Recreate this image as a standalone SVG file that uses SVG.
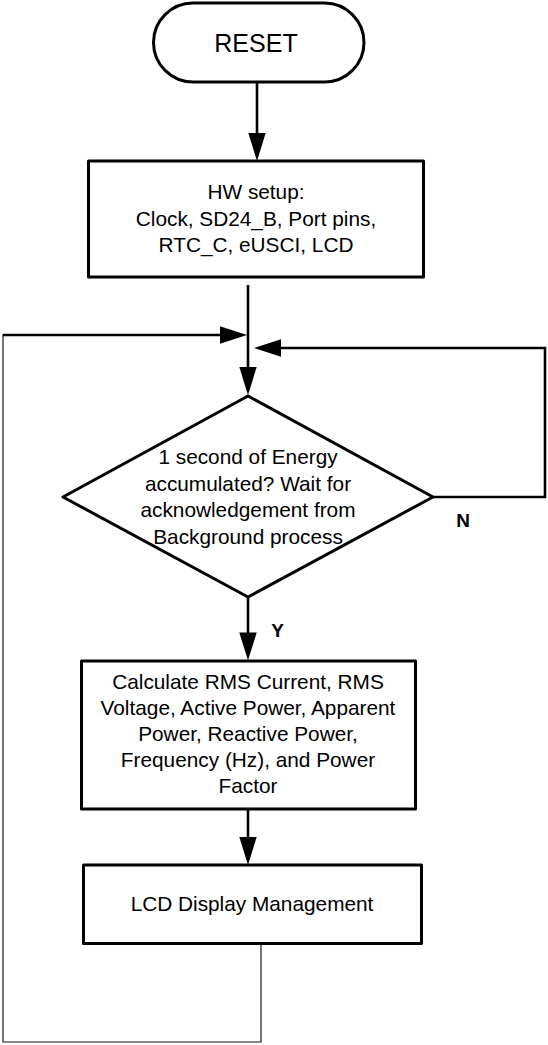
<svg xmlns="http://www.w3.org/2000/svg" width="548" height="1045" viewBox="0 0 548 1045">
  <style>
    .shape { fill: #ffffff; stroke: #000000; stroke-width: 3; stroke-linejoin: round; }
    .label { font-family: "Liberation Sans", Arial, sans-serif; font-size: 20.8px; fill: #000000; text-anchor: middle; }
    .title { font-size: 25px; }
    .yn { font-family: "Liberation Sans", Arial, sans-serif; font-size: 19px; font-weight: bold; fill: #000000; text-anchor: middle; }
    .wire { fill: none; stroke: #000000; stroke-width: 2.6; }
    .thin { fill: none; stroke: #1a1a1a; stroke-width: 1.2; }
    .head { fill: #000000; stroke: none; }
  </style>
  <rect width="548" height="1045" fill="#ffffff"/>

  <!-- connectors -->
  <g id="connectors">
    <!-- RESET to HW setup -->
    <line class="wire" x1="257" y1="82" x2="257" y2="136"/>
    <polygon class="head" points="248.3,133 265.7,133 257,161"/>
    <!-- HW setup to decision -->
    <line class="wire" x1="248" y1="285" x2="248" y2="370"/>
    <polygon class="head" points="239.3,367 256.7,367 248,395"/>
    <!-- loop return from LCD management -->
    <polyline class="thin" points="261,944 261,1042 3,1042 3,334"/>
    <line class="wire" x1="3" y1="335" x2="222" y2="335"/>
    <polygon class="head" points="220,326.3 220,343.7 247,335"/>
    <!-- N branch back to decision -->
    <polyline class="wire" points="433,497 545,497 545,348 278,348"/>
    <polygon class="head" points="281,339.3 281,356.7 254,348"/>
    <text class="yn" x="463" y="527">N</text>
    <!-- Y branch -->
    <line class="wire" x1="248" y1="597" x2="248" y2="636"/>
    <polygon class="head" points="239.3,632.5 256.7,632.5 248,660.5"/>
    <text class="yn" x="277.5" y="636.5">Y</text>
    <!-- calculation to LCD management -->
    <line class="wire" x1="248" y1="809" x2="248" y2="840"/>
    <polygon class="head" points="239.3,837 256.7,837 248,865"/>
  </g>

  <g id="reset">
    <rect class="shape" x="153.5" y="3" width="210.5" height="79" rx="39.5" ry="39.5"/>
    <text class="label title" x="256" y="52">RESET</text>
  </g>

  <g id="hw-setup">
    <rect class="shape" x="88.5" y="161" width="335" height="116"/>
    <text class="label" x="256" y="199">HW setup:</text>
    <text class="label" x="256" y="226">Clock, SD24_B, Port pins,</text>
    <text class="label" x="256" y="252">RTC_C, eUSCI, LCD</text>
  </g>

  <g id="energy-check">
    <polygon class="shape" points="248,396 433,497 248,597 63,497"/>
    <text class="label" x="248" y="464">1 second of Energy</text>
    <text class="label" x="248" y="490.5">accumulated? Wait for</text>
    <text class="label" x="248" y="517">acknowledgement from</text>
    <text class="label" x="248" y="543.5">Background process</text>
  </g>

  <g id="calculate">
    <rect class="shape" x="81.5" y="661" width="334" height="148"/>
    <text class="label" x="248" y="688.5">Calculate RMS Current, RMS</text>
    <text class="label" x="248" y="714.7">Voltage, Active Power, Apparent</text>
    <text class="label" x="248" y="740.9">Power, Reactive Power,</text>
    <text class="label" x="248" y="767.1">Frequency (Hz), and Power</text>
    <text class="label" x="248" y="793.3">Factor</text>
  </g>

  <g id="lcd-display">
    <rect class="shape" x="83.5" y="865" width="338" height="78.5"/>
    <text class="label" x="252" y="911">LCD Display Management</text>
  </g>
</svg>
